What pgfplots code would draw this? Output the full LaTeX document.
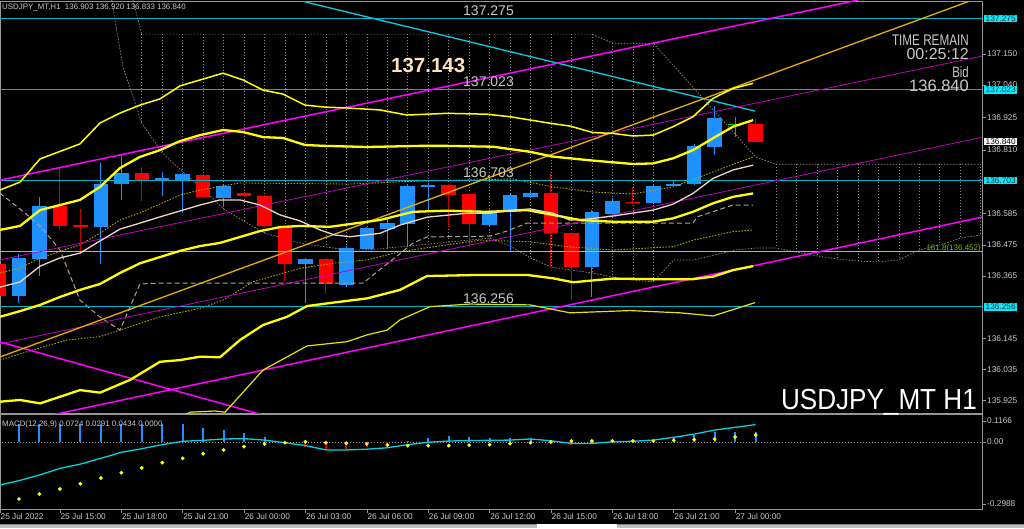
\documentclass[border=0pt]{standalone}
\usepackage{pgfplots}
\pgfplotsset{compat=1.18}
\usepackage{graphicx}
\usepackage{fontspec}
\setmainfont{Liberation Sans}

\definecolor{upblue}{RGB}{30,144,255}
\definecolor{dnred}{RGB}{255,0,0}
\definecolor{wickred}{RGB}{200,0,0}
\definecolor{dojigreen}{RGB}{0,200,0}
\definecolor{lvl}{RGB}{0,180,200}
\definecolor{lvlbox}{RGB}{0,235,255}
\definecolor{trendcyan}{RGB}{0,205,230}
\definecolor{mag}{RGB}{255,0,255}
\definecolor{magthin}{RGB}{190,0,190}
\definecolor{gold}{RGB}{230,175,0}
\definecolor{yel}{RGB}{255,255,0}
\definecolor{oliv}{RGB}{170,170,0}
\definecolor{beige}{RGB}{235,215,200}
\definecolor{kijun}{RGB}{175,160,145}
\definecolor{hatch}{RGB}{140,140,140}
\definecolor{fib}{RGB}{150,225,0}
\definecolor{fibtxt}{RGB}{120,190,0}
\definecolor{txtgray}{RGB}{200,200,200}
\definecolor{axgray}{RGB}{150,150,150}
\definecolor{peach}{RGB}{255,225,190}
\definecolor{macdcyan}{RGB}{0,210,225}

\newcommand\tfont{\fontsize{8.3}{9}\selectfont}

\begin{document}
\begin{tikzpicture}[x=1pt,y=1pt]
\fill[black] (0,0) rectangle (1024,528);

% ---------------- price panel ----------------
\begin{axis}[
  at={(0pt,115pt)}, anchor=south west, scale only axis,
  width=982pt, height=412pt,
  xmin=-0.9286, xmax=47.067, ymin=135.881, ymax=137.337,
  axis line style={draw=axgray, line width=0.8pt},
  xtick=\empty,
  ytick={135.925,136.035,136.145,136.365,136.475,136.585,136.810,136.925,137.040,137.150},
  ytick pos=right, yticklabel pos=right,
  tick align=outside, major tick length=4pt,
  tick style={draw=axgray, line width=0.6pt},
  yticklabel style={font=\tfont, text=txtgray, inner sep=1pt,
    /pgf/number format/.cd, fixed, fixed zerofill, precision=3, assume math mode=true},
  clip mode=individual, unbounded coords=jump,
]
% ichimoku cloud hatch
\addplot[hatch, line width=0.6pt, dash pattern=on 1pt off 2pt] coordinates {
(6,137.220)(6,136.906)(6,nan)(7,137.220)(7,136.800)(7,nan)(8,137.220)(8,136.733)(8,nan)
(9,137.220)(9,136.672)(9,nan)(10,137.220)(10,136.602)(10,nan)(11,137.220)(11,136.559)(11,nan)
(12,137.220)(12,136.517)(12,nan)(13,137.220)(13,136.496)(13,nan)(14,137.220)(14,136.478)(14,nan)
(15,137.220)(15,136.468)(15,nan)(16,137.220)(16,136.457)(16,nan)(17,137.220)(17,136.457)(17,nan)
(18,137.220)(18,136.464)(18,nan)(19,137.220)(19,136.471)(19,nan)(20,137.220)(20,136.478)(20,nan)
(21,137.220)(21,136.485)(21,nan)(22,137.220)(22,136.492)(22,nan)(23,137.220)(23,136.499)(23,nan)
(24,137.220)(24,136.471)(24,nan)(25,137.220)(25,136.429)(25,nan)(26,137.220)(26,136.397)(26,nan)
(27,137.220)(27,136.386)(27,nan)(28,137.220)(28,136.376)(28,nan)(29,137.188)(29,136.362)(29,nan)
(30,137.188)(30,136.351)(30,nan)(31,137.188)(31,136.344)(31,nan)
(37,136.760)(37,136.464)(37,nan)(38,136.760)(38,136.450)(38,nan)(39,136.760)(39,136.436)(39,nan)
(40,136.760)(40,136.425)(40,nan)(41,136.760)(41,136.418)(41,nan)(42,136.760)(42,136.415)(42,nan)
(43,136.760)(43,136.422)(43,nan)(44,136.760)(44,136.457)(44,nan)(45,136.760)(45,136.475)(45,nan)
(46,136.760)(46,136.499)(46,nan)(47,136.760)(47,136.510)};
% span A / span B
\addplot[hatch, line width=0.7pt, dash pattern=on 1.5pt off 1.5pt] coordinates {
(4.53,137.340)(5.08,137.104)(6,136.906)(7,136.800)(8,136.733)(9,136.672)(10,136.602)(11,136.559)
(12,136.517)(13,136.496)(14,136.478)(15,136.468)(16,136.457)(17,136.457)(18,136.464)(19,136.471)
(20,136.478)(21,136.485)(22,136.492)(23,136.499)(24,136.471)(25,136.429)(26,136.397)(27,136.386)
(28,136.376)(29,136.362)(30,136.351)(31,136.344)(32,136.422)(33,136.422)(35,136.457)(36,136.464)
(37,136.464)(38,136.450)(39,136.436)(40,136.425)(41,136.418)(42,136.415)(43,136.422)(44,136.457)
(45,136.475)(46,136.499)(47,136.510)};
\addplot[hatch, line width=0.7pt, dash pattern=on 1.5pt off 1.5pt] coordinates {
(5.57,137.340)(6,137.220)(28,137.220)(29,137.188)(31,137.188)(36,136.786)(37,136.760)(47,136.760)};

% candles: wicks
\addplot[upblue, line width=1pt] coordinates {
(0,136.269)(0,136.443)(0,nan)(1,136.365)(1,136.645)(1,nan)(4,136.408)(4,136.763)(4,nan)
(5,136.634)(5,136.793)(5,nan)(7,136.649)(7,136.734)(7,nan)(8,136.587)(8,136.728)(8,nan)
(10,136.608)(10,136.686)(10,nan)(14,136.268)(14,136.430)(14,nan)(16,136.325)(16,136.470)(16,nan)
(17,136.458)(17,136.540)(17,nan)(18,136.461)(18,136.575)(18,nan)(19,136.469)(19,136.690)(19,nan)
(20,136.600)(20,136.695)(20,nan)(23,136.540)(23,136.600)(23,nan)(24,136.455)(24,136.655)(24,nan)
(25,136.640)(25,136.665)(25,nan)(28,136.292)(28,136.600)(28,nan)(29,136.580)(29,136.640)(29,nan)
(31,136.620)(31,136.690)(31,nan)(32,136.680)(32,136.700)(32,nan)(33,136.685)(33,136.830)(33,nan)
(34,136.793)(34,136.966)};
\addplot[wickred, line width=1pt] coordinates {
(-1,136.283)(-1,136.420)(-1,nan)(2,136.530)(2,136.749)(2,nan)(3,136.453)(3,136.602)(3,nan)
(6,136.631)(6,136.751)(6,nan)(9,136.640)(9,136.726)(9,nan)(11,136.645)(11,136.662)(11,nan)
(12,136.535)(12,136.651)(12,nan)(13,136.347)(13,136.546)(13,nan)(15,136.301)(15,136.430)(15,nan)
(21,136.539)(21,136.692)(21,nan)(22,136.466)(22,136.660)(22,nan)(26,136.392)(26,136.728)(26,nan)
(27,136.280)(27,136.520)(27,nan)(30,136.618)(30,136.681)(30,nan)(36,136.834)(36,136.920)};
\addplot[dojigreen, line width=1pt] coordinates {(35,136.857)(35,136.926)};
% candles: bodies
\addplot[upblue, line width=14.5pt] coordinates {
(0,136.296)(0,136.430)(0,nan)(1,136.425)(1,136.614)(1,nan)(4,136.537)(4,136.689)(4,nan)
(5,136.689)(5,136.730)(5,nan)(7,136.703)(7,136.710)(7,nan)(8,136.704)(8,136.726)(8,nan)
(10,136.642)(10,136.683)(10,nan)(14,136.406)(14,136.425)(14,nan)(16,136.333)(16,136.463)(16,nan)
(17,136.461)(17,136.535)(17,nan)(18,136.532)(18,136.551)(18,nan)(19,136.548)(19,136.683)(19,nan)
(20,136.680)(20,136.688)(20,nan)(23,136.545)(23,136.589)(23,nan)(24,136.590)(24,136.651)(24,nan)
(25,136.643)(25,136.659)(25,nan)(28,136.396)(28,136.590)(28,nan)(29,136.583)(29,136.630)(29,nan)
(31,136.624)(31,136.683)(31,nan)(32,136.683)(32,136.692)(32,nan)(33,136.689)(33,136.826)(33,nan)
(34,136.822)(34,136.922)};
\addplot[dnred, line width=14.5pt] coordinates {
(-1,136.406)(-1,136.296)(-1,nan)(2,136.614)(2,136.542)(2,nan)(3,136.545)(3,136.540)(3,nan)
(6,136.730)(6,136.704)(6,nan)(9,136.722)(9,136.645)(9,nan)(11,136.657)(11,136.648)(11,nan)
(12,136.648)(12,136.543)(12,nan)(13,136.543)(13,136.407)(13,nan)(15,136.425)(15,136.336)(15,nan)
(21,136.688)(21,136.651)(21,nan)(22,136.654)(22,136.548)(22,nan)(26,136.659)(26,136.516)(26,nan)
(27,136.516)(27,136.398)(27,nan)(30,136.628)(30,136.622)(30,nan)(36,136.903)(36,136.840)};
\addplot[dojigreen, line width=14.5pt] coordinates {(35,136.900)(35,136.904)};

% dotted bands
\addplot[oliv, line width=0.9pt, dash pattern=on 1.5pt off 1.5pt] coordinates {
(-0.93,136.376)(0.05,136.393)(1.03,136.429)(2.98,136.475)(3.96,136.517)(4.94,136.563)(5.91,136.588)
(7.87,136.651)(8.85,136.669)(10.80,136.694)(16.18,136.690)(19.60,136.701)(24.14,136.708)(26.10,136.680)
(28.05,136.662)(30.01,136.655)(31.97,136.680)(33.92,136.733)(35.88,136.786)};
\addplot[oliv, line width=0.9pt, dash pattern=on 1.5pt off 1.5pt] coordinates {
(-0.93,136.068)(0.68,136.104)(2.35,136.139)(3.96,136.151)(5.43,136.186)(6.89,136.221)(8.85,136.251)
(9.97,136.280)(10.80,136.316)(11.44,136.345)(13.73,136.392)(15.35,136.410)(17.01,136.422)(18.62,136.451)
(22.53,136.492)(24.98,136.486)(26.78,136.469)(29.03,136.457)(31.97,136.469)(32.94,136.492)(34.90,136.522)
(35.88,136.528)};
% dashed kijun-like line
\addplot[kijun, line width=1pt, dash pattern=on 5pt off 3pt] coordinates {
(-0.93,136.658)(0.29,136.588)(1.17,136.531)(2.0,136.457)(2.98,136.280)(3.96,136.220)(4.94,136.174)
(5.91,136.337)(6.89,136.340)(16.81,136.340)(18.48,136.436)(19.26,136.482)(19.94,136.503)(23.02,136.506)
(23.85,136.524)(24.83,136.552)(32.94,136.552)(33.14,136.574)(34.90,136.616)(35.88,136.616)};

% horizontal levels
\addplot[fib, line width=1.2pt] coordinates {(-1,136.452)(48,136.452)};
\addplot[lvl, line width=1pt] coordinates {(-1,137.275)(48,137.275)};
\addplot[lvl, line width=1pt] coordinates {(-1,137.023)(48,137.023)};
\addplot[lvl, line width=1pt] coordinates {(-1,136.703)(48,136.703)};
\addplot[lvl, line width=1pt] coordinates {(-1,136.256)(48,136.256)};

% trend lines
\addplot[trendcyan, line width=1.3pt] coordinates {(13.98,137.334)(35.97,136.948)};
\addplot[mag, line width=1.5pt] coordinates {(-0.93,136.704)(41.0,137.340)};
\addplot[magthin, line width=0.8pt] coordinates {(-0.93,136.422)(47.12,137.143)};
\addplot[magthin, line width=0.8pt] coordinates {(-0.93,136.125)(47.12,136.856)};
\addplot[mag, line width=1.5pt] coordinates {(-0.93,135.835)(47.12,136.574)};
\addplot[mag, line width=1.5pt] coordinates {(-0.93,136.132)(12.27,135.867)};
\addplot[gold, line width=1.3pt] coordinates {(-0.93,136.079)(46.4,137.335)};

% bands
\addplot[yel, line width=1.5pt] coordinates {
(-0.93,136.669)(0.05,136.697)(1.03,136.779)(2.98,136.832)(3.96,136.906)(4.94,136.941)(5.91,136.969)
(6.89,136.991)(7.87,137.037)(8.85,137.058)(9.97,137.082)(10.95,137.058)(11.93,137.022)(12.90,137.008)
(13.98,136.969)(14.96,136.962)(16.03,136.959)(17.64,136.952)(18.96,136.934)(20.92,136.940)(22.87,136.937)
(24.0,136.928)(25.95,136.905)(26.93,136.895)(28.05,136.872)(29.03,136.869)(30.01,136.860)(30.99,136.863)
(31.97,136.893)(32.94,136.928)(33.92,136.993)(34.90,137.028)(35.88,137.046)};
\addplot[yel, line width=2.3pt] coordinates {
(-0.93,136.528)(0.05,136.542)(1.03,136.598)(2.98,136.634)(3.96,136.680)(4.94,136.747)(5.91,136.786)
(6.89,136.810)(7.87,136.842)(8.85,136.863)(9.97,136.881)(10.95,136.874)(11.93,136.856)(12.90,136.853)
(13.98,136.828)(14.96,136.825)(17.01,136.821)(19.60,136.825)(20.92,136.825)(23.17,136.822)(24.98,136.804)
(26.10,136.787)(28.05,136.773)(30.01,136.761)(30.99,136.763)(31.97,136.781)(32.94,136.810)(33.92,136.852)
(34.90,136.893)(35.88,136.916)};
\addplot[yel, line width=2.3pt] coordinates {
(-0.93,136.221)(0.05,136.241)(1.03,136.263)(2.0,136.291)(2.98,136.316)(3.96,136.337)(4.94,136.376)
(5.91,136.410)(6.89,136.432)(7.87,136.454)(8.85,136.471)(9.82,136.482)(10.80,136.503)(11.78,136.524)
(12.76,136.538)(13.73,136.542)(15.20,136.539)(17.64,136.563)(19.26,136.592)(20.92,136.596)(22.87,136.592)
(24.83,136.598)(26.10,136.581)(27.42,136.563)(29.03,136.557)(30.99,136.557)(31.97,136.569)(32.94,136.592)
(33.92,136.622)(34.90,136.645)(35.88,136.657)};
\addplot[yel, line width=2.3pt] coordinates {
(-0.93,135.921)(0.05,135.927)(1.03,135.915)(2.98,135.962)(3.96,135.953)(5.43,135.998)(6.89,136.062)
(7.87,136.068)(8.85,136.080)(9.82,136.078)(10.80,136.139)(11.93,136.192)(13.10,136.221)(14.08,136.259)
(15.35,136.271)(17.01,136.286)(18.62,136.316)(19.94,136.365)(22.53,136.369)(24.83,136.369)(26.10,136.357)
(27.08,136.343)(29.03,136.356)(30.99,136.354)(32.94,136.354)(33.92,136.363)(34.90,136.386)(35.88,136.400)};
\addplot[yel!90!black, line width=1.2pt] coordinates {
(7.38,135.839)(8.36,135.884)(9.58,135.888)(10.07,135.884)(11.93,136.033)(14.08,136.118)(16.03,136.133)
(17.01,136.157)(17.99,136.174)(18.62,136.210)(20.09,136.257)(22.04,136.266)(24.98,136.263)(26.93,136.235)
(29.86,136.243)(32.31,136.235)(33.92,136.224)(35.97,136.271)};
% moving average
\addplot[beige, line width=1.3pt] coordinates {
(-0.93,136.326)(0.05,136.344)(1.03,136.400)(2.0,136.429)(2.98,136.446)(3.96,136.489)(4.94,136.531)
(5.91,136.552)(6.89,136.574)(7.87,136.595)(8.85,136.616)(9.82,136.634)(10.80,136.634)(11.78,136.616)
(12.76,136.581)(13.73,136.560)(14.71,136.528)(15.44,136.510)(16.18,136.504)(17.64,136.516)(18.62,136.545)
(19.94,136.573)(21.90,136.587)(23.02,136.587)(24.14,136.598)(24.98,136.602)(26.10,136.587)(26.93,136.563)
(27.76,136.566)(29.03,136.577)(30.99,136.598)(31.97,136.619)(32.94,136.657)(33.92,136.710)(34.90,136.740)
(35.88,136.757)};

% texts tied to prices
\node[anchor=base west, font=\fontsize{14}{14}\selectfont, text=txtgray, inner sep=0pt, yshift=3.5pt]
  at (axis cs:21.70,137.275) {137.275};
\node[anchor=base west, font=\fontsize{14}{14}\selectfont, text=txtgray, inner sep=0pt, yshift=3pt]
  at (axis cs:21.70,137.023) {137.023};
\node[anchor=base west, font=\fontsize{14}{14}\selectfont, text=txtgray, inner sep=0pt, yshift=2.5pt]
  at (axis cs:21.70,136.703) {136.703};
\node[anchor=base west, font=\fontsize{14}{14}\selectfont, text=txtgray, inner sep=0pt, yshift=3pt]
  at (axis cs:21.70,136.256) {136.256};
\node[anchor=base west, font=\bfseries\fontsize{20.5}{20.5}\selectfont, text=peach, inner sep=0pt]
  at (axis cs:18.18,137.084) {137.143};
\node[anchor=base east, font=\fontsize{8}{8}\selectfont, text=fibtxt, inner sep=0pt, yshift=1pt, xshift=-1pt]
  at (axis cs:47.067,136.452) {161.8(136.452)};

\coordinate (b1) at (axis cs:47.067,137.275);
\coordinate (b2) at (axis cs:47.067,137.023);
\coordinate (b3) at (axis cs:47.067,136.840);
\coordinate (b4) at (axis cs:47.067,136.703);
\coordinate (b5) at (axis cs:47.067,136.256);
\end{axis}

% ---------------- MACD panel ----------------
\begin{axis}[
  at={(0pt,19pt)}, anchor=south west, scale only axis,
  width=982pt, height=95pt,
  xmin=-0.9286, xmax=47.067, ymin=-0.279167, ymax=0.116667,
  axis line style={draw=axgray, line width=0.8pt},
  xtick={-0.9286,2,5,8,11,14,17,20,23,26,29,32,35},
  xticklabels={25 Jul 2022,25 Jul 15:00,25 Jul 18:00,25 Jul 21:00,26 Jul 00:00,26 Jul 03:00,
    26 Jul 06:00,26 Jul 09:00,26 Jul 12:00,26 Jul 15:00,26 Jul 18:00,26 Jul 21:00,27 Jul 00:00},
  xtick pos=bottom, ytick pos=right, yticklabel pos=right,
  tick align=outside, major tick length=4pt,
  tick style={draw=axgray, line width=0.6pt},
  xticklabel style={anchor=north west, inner sep=0.5pt, font=\tfont, text=txtgray},
  ytick={0.0875,0,-0.258333}, yticklabels={0.1166,0.00,-0.2988},
  yticklabel style={font=\tfont, text=txtgray, inner sep=1pt},
  clip mode=individual,
]
\addplot[axgray, line width=0.7pt, dash pattern=on 1pt off 2pt] coordinates {(-1,0)(48,0)};
\addplot[ycomb, upblue, line width=2pt] coordinates {
(0,0.0737)(1,0.0737)(2,0.0737)(3,0.0737)(4,0.0737)(5,0.0737)(6,0.0737)(7,0.0737)(8,0.0737)
(9,0.057)(10,0.05)(11,0.036)(12,0.0196)(19,0.004)(20,0.015)(21,0.025)(22,0.02)(23,0.015)(24,0.015)
(25,0.015)(31,0.004)(32,0.022)(33,0.029)(34,0.040)(35,0.043)(36,0.0434)};
\addplot[ycomb, dnred!85!black, line width=2pt] coordinates {
(13,-0.005)(14,-0.019)(15,-0.033)(16,-0.03)(17,-0.02)(18,-0.01)(26,-0.004)(27,-0.0125)(28,-0.01)
(29,-0.004)(30,-0.002)};
\addplot[macdcyan, line width=1.3pt] coordinates {
(-0.93,-0.179)(0,-0.161)(1,-0.1375)(2,-0.110)(3,-0.092)(4,-0.068)(5,-0.043)(6,-0.028)(7,-0.011)
(8,0.003)(9,0.007)(10,0.0125)(11,0.014)(12,0.008)(13,-0.003)(14,-0.015)(15,-0.033)(16,-0.033)
(17,-0.030)(18,-0.024)(19,-0.011)(20,-0.001)(21,0.004)(22,0.006)(23,0.007)(24,0.008)(25,0.0125)
(26,0.005)(27,-0.006)(28,-0.006)(29,0.001)(30,0.003)(31,0.008)(32,0.0195)(33,0.033)(34,0.050)
(35,0.061)(36,0.0724)};
\addplot[only marks, mark=*, mark size=1.7pt, mark options={fill=yel, draw=yel}] coordinates {
(0,-0.2375)(1,-0.2167)(2,-0.196)(3,-0.174)(4,-0.150)(5,-0.128)(6,-0.108)(7,-0.086)(8,-0.068)
(9,-0.049)(10,-0.033)(11,-0.0194)(12,-0.0083)(13,-0.003)(14,0.001)(15,-0.003)(16,-0.0055)(17,-0.008)
(18,-0.0125)(19,-0.015)(20,-0.015)(21,-0.015)(22,-0.013)(23,-0.011)(24,-0.007)(25,-0.003)(26,0)
(27,0.004)(28,0.004)(29,0.004)(30,0.004)(31,0.004)(32,0.007)(33,0.010)(34,0.0125)(35,0.021)(36,0.0291)};
\end{axis}

% right-axis price boxes
\foreach \c/\t in {b1/137.275,b2/137.023,b4/136.703,b5/136.256}{
  \node[anchor=west, fill=lvlbox, text=black!80, font=\tfont, inner xsep=1.5pt, inner ysep=0.8pt,
    xshift=2pt] at (\c) {\t};
}
\node[anchor=west, fill=white, text=black, font=\tfont, inner xsep=1.5pt, inner ysep=0.8pt,
  xshift=2pt] at (b3) {136.840};

% overlay texts
\node[anchor=base west, font=\fontsize{7.9}{8}\selectfont, text=txtgray, inner sep=0pt]
  at (2,518.5) {USDJPY\_MT,H1\ \ 136.903 136.920 136.833 136.840};
\node[anchor=base east, font=\fontsize{15.4}{16}\selectfont, text=txtgray, inner sep=0pt]
  at (969,482) {\scalebox{0.76}[1]{TIME REMAIN}};
\node[anchor=base east, font=\fontsize{16}{16}\selectfont, text=txtgray, inner sep=0pt]
  at (969,468) {00:25:12};
\node[anchor=base east, font=\fontsize{15}{16}\selectfont, text=txtgray, inner sep=0pt]
  at (969,450.7) {\scalebox{0.76}[1]{Bid}};
\node[anchor=base east, font=\fontsize{16.5}{17}\selectfont, text=txtgray, inner sep=0pt]
  at (969,436.3) {136.840};
\node[anchor=base east, font=\fontsize{29}{30}\selectfont, text=white, inner sep=0pt]
  at (977,118.7) {\scalebox{0.9}[1]{USDJPY\_MT H1}};
\node[anchor=base west, font=\fontsize{7.9}{8}\selectfont, text=txtgray, inner sep=0pt]
  at (2,102) {MACD(12,26,9) 0.0724 0.0291 0.0434 0.0000};

% bottom tab strip
\fill[black!25] (0,0) rectangle (1024,4);
\draw[black!50, line width=0.8pt] (0,4) -- (1024,4);
\fill[white] (537,0) rectangle (617,3.6);

\pgfresetboundingbox
\useasboundingbox (0,0) rectangle (1024,528);
\end{tikzpicture}
\end{document}
